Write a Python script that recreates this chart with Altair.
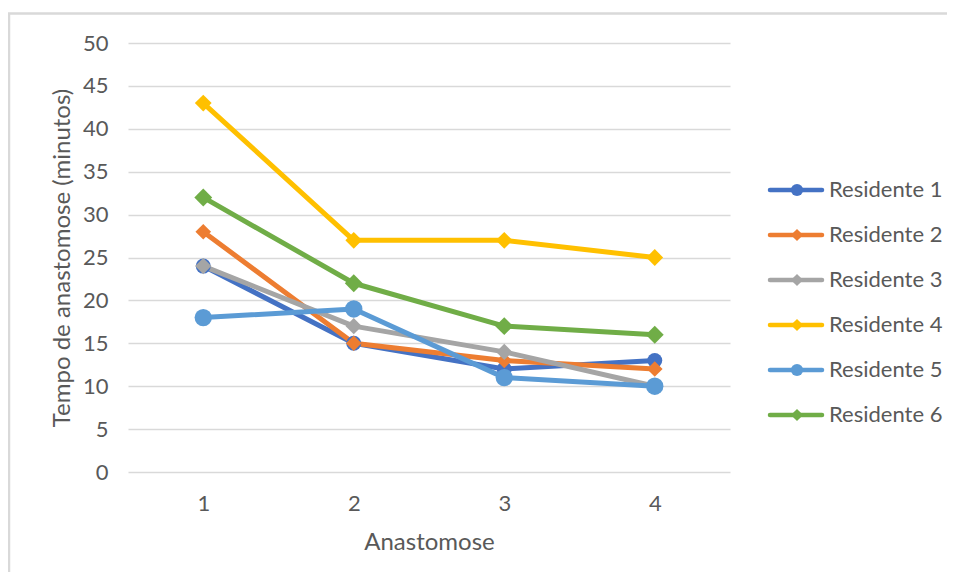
import altair as alt
import pandas as pd

anastomose = [1, 2, 3, 4]
residents = ["Residente 1", "Residente 2", "Residente 3",
             "Residente 4", "Residente 5", "Residente 6"]
r1 = [24, 15, 12, 13]
r2 = [28, 15, 13, 12]
r3 = [24, 17, 14, 10]
r4 = [43, 27, 27, 25]
r5 = [18, 19, 11, 10]
r6 = [32, 22, 17, 16]
y_ticks = [0, 5, 10, 15, 20, 25, 30, 35, 40, 45, 50]

colors = ["#4472C4", "#ED7D31", "#A5A5A5", "#FFC000", "#5B9BD5", "#70AD47"]
shapes = ["circle", "diamond", "diamond", "diamond", "circle", "diamond"]
sizes = [225, 320, 320, 320, 380, 320]

series_values = [r1, r2, r3, r4, r5, r6]
rows = []
for name, vals in zip(residents, series_values):
    for a, v in zip(anastomose, vals):
        rows.append({"serie": name, "anastomose": a, "minutos": v})
df = pd.DataFrame(rows)
legend_df = pd.DataFrame({"serie": residents})

FONT = "Lato"
TXT = "#595959"

color = alt.Color("serie:N", scale=alt.Scale(domain=residents, range=colors), legend=None)
shape = alt.Shape("serie:N", scale=alt.Scale(domain=residents, range=shapes), legend=None)

x = alt.X("anastomose:O",
          scale=alt.Scale(type="point", padding=0.5),
          axis=alt.Axis(title="Anastomose", labelAngle=0, ticks=False, domain=False,
                        grid=False, labelPadding=21, titlePadding=16))
y = alt.Y("minutos:Q",
          scale=alt.Scale(domain=[0, 50], nice=False),
          axis=alt.Axis(title="Tempo de anastomose (minutos)", values=y_ticks,
                        domain=False, ticks=False, grid=True, gridColor="#D9D9D9",
                        gridWidth=1.5, labelPadding=20, titlePadding=8))

base = alt.Chart(df)
lines = base.mark_line(strokeWidth=5, strokeCap="round", strokeJoin="round").encode(
    x=x, y=y, color=color, detail="serie:N")
points = base.mark_point(filled=True, opacity=1).encode(
    x=x, y=y, color=color, shape=shape,
    size=alt.Size("serie:N", scale=alt.Scale(domain=residents, range=sizes), legend=None))
main = alt.layer(lines, points)

ly = alt.Y("serie:N", scale=alt.Scale(type="point", padding=0, domain=residents,
                                      range=[147, 372]), axis=None)
leg = alt.Chart(legend_df)
leg_lines = leg.mark_rule(strokeWidth=4.5, strokeCap="round").encode(
    x=alt.value(642), x2=alt.value(694), y=ly, color=color)
leg_points = leg.mark_point(filled=True, opacity=1, size=150).encode(
    x=alt.value(669), y=ly, color=color, shape=shape)
leg_text = leg.mark_text(align="left", baseline="middle", font=FONT, fontSize=22,
                         color=TXT).encode(
    x=alt.value(701), y=ly, text="serie:N")
legend = alt.layer(leg_lines, leg_points, leg_text)

border = alt.Chart(legend_df.head(1)).mark_rect(
    fill=None, stroke="#D9D9D9", strokeWidth=2.5).encode(
    x=alt.value(-119), x2=alt.value(900), y=alt.value(-29.5), y2=alt.value(600))

chart = alt.layer(border, main, legend).resolve_scale(
    y="independent", size="independent"
).properties(
    width=602, height=429,
    autosize=alt.AutoSizeParams(type="none"),
    padding={"left": 120, "top": 35, "right": 217, "bottom": 100},
).configure_view(stroke=None).configure_axis(
    labelFont=FONT, labelFontSize=22, labelColor=TXT,
    titleFont=FONT, titleFontSize=24, titleFontWeight="normal", titleColor=TXT,
)

chart.save("out.html", embed_options={"renderer": "svg", "actions": False})
